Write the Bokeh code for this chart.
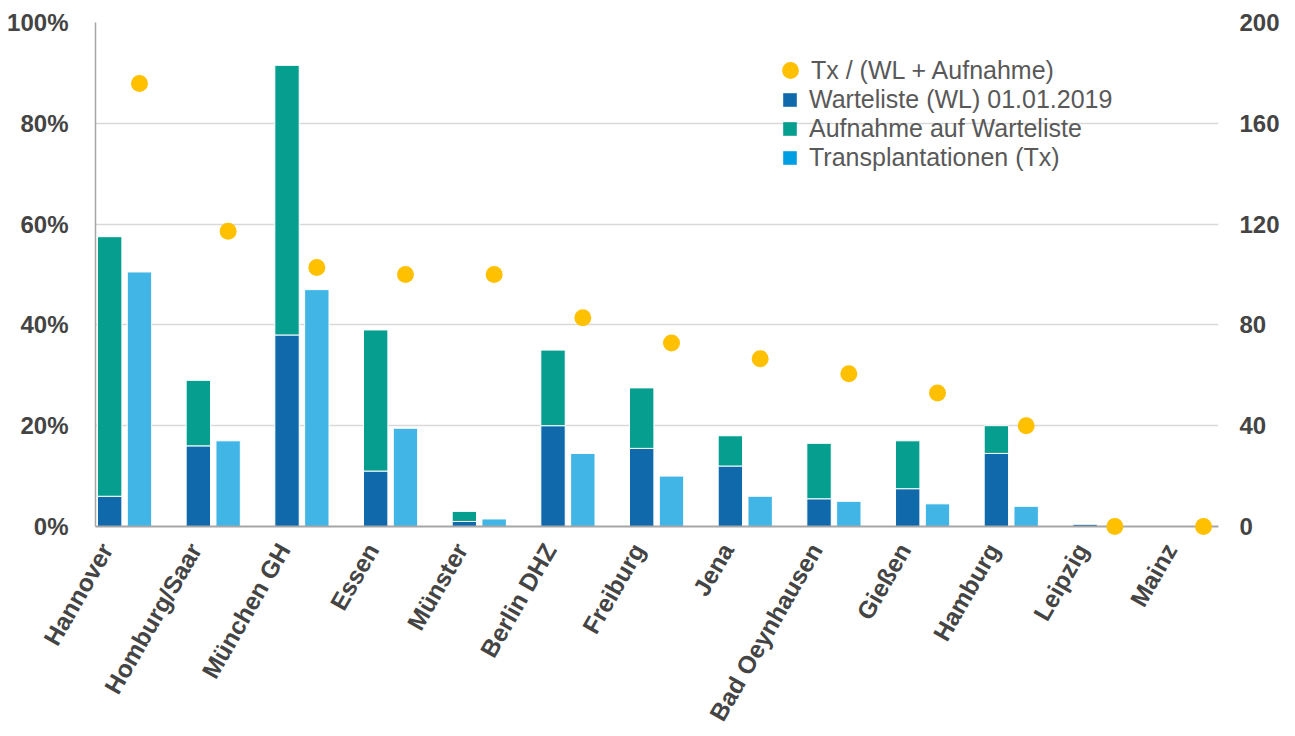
import math
from bokeh.plotting import figure
from bokeh.models import (ColumnDataSource, Range1d, LinearAxis, FixedTicker,
                          PrintfTickFormatter, CustomJSTickFormatter, Legend, LegendItem)
from bokeh.transform import dodge
from bokeh.embed import file_html
from bokeh.resources import INLINE

# ---------------- data ----------------
centres = ["Hannover", "Homburg/Saar", "München GH", "Essen", "Münster", "Berlin DHZ",
           "Freiburg", "Jena", "Bad Oeynhausen", "Gießen", "Hamburg", "Leipzig", "Mainz"]
warteliste = [12, 32, 76, 22, 2, 40, 31, 24, 11, 15, 29, 1, 0]        # WL 01.01.2019
aufnahme = [103, 26, 107, 56, 4, 30, 24, 12, 22, 19, 11, 0, 0]        # Aufnahme auf Warteliste
transplant = [101, 34, 94, 39, 3, 29, 20, 12, 10, 9, 8, 0, 0]         # Transplantationen
ratio_pct = [87.9, 58.6, 51.4, 50.0, 50.0, 41.4, 36.4, 33.3, 30.3, 26.5, 20.0, 0.0, 0.0]
left_ticks = [0, 20, 40, 60, 80, 100]
right_ticks = [0, 40, 80, 120, 160, 200]

# ---------------- styles ----------------
C_WL = "#0F69AA"
C_AUF = "#069E8E"
C_TX = "#41B6E6"
C_TX_LEG = "#009FE3"
C_DOT = "#FFC000"
AX_TXT = "#444444"
FONT = "Liberation Sans"
STACK_OFF = -0.336
BAR_W = 0.275
LABEL_OFF = -0.37

src = ColumnDataSource(dict(x=list(range(len(centres))), wl=warteliste, auf=aufnahme,
                            tx=transplant, ratio=ratio_pct))

p = figure(width=1290, height=736, output_backend="svg", toolbar_location=None,
           x_range=Range1d(-0.496, 12.169), y_range=Range1d(0, 100),
           min_border_left=95, min_border_right=72, min_border_top=22, min_border_bottom=210)
p.extra_y_ranges = {"n": Range1d(0, 200)}
p.outline_line_color = None
p.background_fill_color = "white"
p.border_fill_color = "white"

# bars
stack = p.vbar_stack(["wl", "auf"], x=dodge("x", STACK_OFF), width=BAR_W, source=src,
                     fill_color=[C_WL, C_AUF], line_color="white", line_width=1,
                     y_range_name="n")
txbars = p.vbar(x="x", top="tx", width=BAR_W, source=src, fill_color=C_TX,
                line_color="white", line_width=1, y_range_name="n")

# ratio dots
dots = p.scatter("x", "ratio", source=src, size=17, fill_color=C_DOT, line_color=None,
                 level="annotation")

# legend-only renderers (a single zero-height bar outside the visible range)
leg_src = ColumnDataSource(dict(x=[-5], top=[0]))
leg_wl = p.vbar(x="x", top="top", width=0.1, source=leg_src, fill_color=C_WL, line_color=None)
leg_auf = p.vbar(x="x", top="top", width=0.1, source=leg_src, fill_color=C_AUF, line_color=None)
leg_tx = p.vbar(x="x", top="top", width=0.1, source=leg_src, fill_color=C_TX_LEG, line_color=None)

# grid
p.xgrid.grid_line_color = None
p.ygrid.ticker = FixedTicker(ticks=left_ticks)
p.ygrid.grid_line_color = "#D9D9D9"
p.ygrid.grid_line_width = 1.5

# x axis
xa = p.xaxis[0]
xa.ticker = FixedTicker(ticks=[i + LABEL_OFF for i in range(len(centres))])
xa.formatter = CustomJSTickFormatter(args=dict(labels=centres, off=LABEL_OFF),
                                     code="const i = Math.round(tick - off); return labels[i] ?? '';")
xa.major_label_orientation = math.pi / 3
xa.major_tick_line_color = None
xa.minor_tick_line_color = None
xa.axis_line_color = "#A6A6A6"
xa.axis_line_width = 2
xa.major_label_text_font = FONT
xa.major_label_text_font_style = "bold"
xa.major_label_text_font_size = "24.5px"
xa.major_label_text_color = AX_TXT
xa.major_label_standoff = 13

# left axis
ya = p.yaxis[0]
ya.ticker = FixedTicker(ticks=left_ticks)
ya.formatter = PrintfTickFormatter(format="%d%%")
ya.major_tick_line_color = None
ya.minor_tick_line_color = None
ya.axis_line_color = "#A6A6A6"
ya.axis_line_width = 1.5
ya.major_label_text_font = FONT
ya.major_label_text_font_style = "bold"
ya.major_label_text_font_size = "24px"
ya.major_label_text_color = AX_TXT
ya.major_label_standoff = 21

# right axis
ra = LinearAxis(y_range_name="n", ticker=FixedTicker(ticks=right_ticks))
ra.major_tick_line_color = None
ra.minor_tick_line_color = None
ra.axis_line_color = None
ra.major_label_text_font = FONT
ra.major_label_text_font_style = "bold"
ra.major_label_text_font_size = "24px"
ra.major_label_text_color = AX_TXT
ra.major_label_standoff = 15
p.add_layout(ra, "right")

# legends
common = dict(padding=0, margin=0, background_fill_alpha=0, border_line_alpha=0,
              label_text_font=FONT, label_text_font_size="25px", label_text_color="#595959")
leg1 = Legend(items=[LegendItem(label="Tx / (WL + Aufnahme)", renderers=[dots])],
              location=(674, 435), glyph_width=42, glyph_height=42, label_standoff=-3,
              **common)
leg2 = Legend(items=[LegendItem(label="Warteliste (WL) 01.01.2019", renderers=[leg_wl]),
                     LegendItem(label="Aufnahme auf Warteliste", renderers=[leg_auf]),
                     LegendItem(label="Transplantationen (Tx)", renderers=[leg_tx])],
              location=(686, 354), glyph_width=17, glyph_height=17, label_standoff=11,
              label_height=29, spacing=0, **common)
p.add_layout(leg1)
p.add_layout(leg2)

open("out.html", "w").write(file_html(p, INLINE))
